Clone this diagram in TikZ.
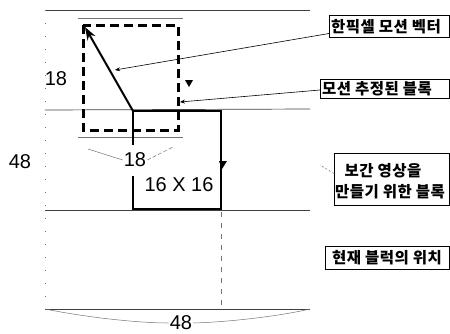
\documentclass[tikz,border=0pt]{standalone}
\usepackage{fontspec}
\setmainfont{Liberation Sans}
\newfontfamily\kr{Noto Sans CJK KR}[LetterSpace=3]
\usetikzlibrary{arrows.meta}
\tikzset{
  grid/.style={line width=0.7pt, black!75},
  faint/.style={line width=0.5pt, black!55},
  dashbox/.style={line width=3pt, dash pattern=on 9pt off 5pt},
  blockline/.style={line width=2.8pt},
  vec/.style={line width=2pt, -{Stealth[length=13pt,width=9pt]}},
  leader/.style={line width=0.6pt, -{Stealth[length=5pt,width=4pt]}},
  dim/.style={font=\fontsize{20}{22}\selectfont, inner sep=1pt},
  labbox/.style={draw, line width=1pt, anchor=north west, inner sep=0pt},
  labtxt/.style={anchor=west, font=\kr\bfseries\fontsize{15.5}{18}\selectfont, inner sep=0pt},
  tickmark/.style={fill=black}
}
\begin{document}
\begin{tikzpicture}[x=1pt,y=-1pt]
\useasboundingbox (0,0) rectangle (450,333);
\clip (0,0) rectangle (450,333);
% grid lines
\coordinate (g0l) at (45,10);  \coordinate (g0r) at (310,10);
\coordinate (g1l) at (45,110); \coordinate (g1r) at (310,109);
\coordinate (g2l) at (45,210); \coordinate (g2r) at (310,210);
\coordinate (g3l) at (45,309); \coordinate (g3r) at (310,309);
\draw[grid] (g0l) -- (g0r);
\draw[grid] (g1l) -- (g1r);
\draw[grid] (g2l) -- (g2r);
\draw[grid] (g3l) -- (g3r);
\draw[faint, dash pattern=on 1pt off 12pt] (g0l) -- (g3l);
\coordinate (vd1) at (221,212); \coordinate (vd2) at (221,309);
\draw[faint, dash pattern=on 5pt off 6pt] (vd1) -- (vd2);
% thin lines above/below dashed box
\coordinate (ta) at (78,18);  \coordinate (tb) at (183,18);
\coordinate (ba) at (78,137); \coordinate (bb) at (183,137);
\draw[faint] (ta) -- (tb);
\draw[faint] (ba) -- (bb);
% dashed search block
\coordinate (d1) at (83,25); \coordinate (d2) at (178,130);
\draw[dashbox] (d1) rectangle (d2);
% solid block
\coordinate (s1) at (133,111); \coordinate (s2) at (221,111);
\coordinate (s3) at (221,209); \coordinate (s4) at (133,209);
\coordinate (s5) at (133,176); \coordinate (s6) at (133,145);
\draw[blockline] (s5) -- (s4) -- (s3) -- (s2) -- (s1) -- (s6);
% motion vector
\coordinate (vtip) at (85,27);
\draw[vec] (s1) -- (vtip);
% small marks
\fill[tickmark] (185,80) -- (193,80) -- (189,87) -- cycle;
\fill[tickmark] (219,161) -- (227,161) -- (222,169) -- cycle;
% dimension labels
\node[dim] (l18a) at (56,79) {18};
\node[dim] (l48a) at (20,162) {48};
\node[dim] (l18b) at (135,160) {18};
\node[dim] (l1616) at (179,185) {16 X 16};
\node[dim] (l48b) at (181,323) {48};
\draw[faint] (88,149) -- (l18b.west);
\draw[faint, dash pattern=on 4pt off 2pt] (l18b.east) -- (173,147);
\draw[faint] (g3l) .. controls (90,318) and (140,323) .. (l48b.west);
\draw[faint] (l48b.east) .. controls (230,322) and (280,316) .. (g3r);
% label boxes
\node[labbox, minimum width=120pt, minimum height=22pt] (b1) at (329,15) {};
\node[labtxt] (t1) at ([xshift=2pt]b1.west) {한픽셀 모션 벡터};
\node[labbox, minimum width=129pt, minimum height=19pt] (b2) at (320,79) {};
\node[labtxt] (t2) at ([xshift=2pt]b2.west) {모션 추정된 블록};
\node[labbox, minimum width=115pt, minimum height=52pt] (b3) at (334,153) {};
\node[labtxt, anchor=center] (t3a) at (383,171) {보간 영상을};
\node[labtxt] (t3b) at (335,192) {만들기 위한 블록};
\node[labbox, minimum width=124pt, minimum height=23pt] (b4) at (325,246) {};
\node[labtxt] (t4) at ([xshift=7pt]b4.west) {현재 블럭의 위치};
% leaders
\coordinate (p1) at (115,70);
\coordinate (p2) at (180,102);
\draw[leader] ([yshift=-7pt]b1.west) -- (p1);
\draw[leader] ([yshift=-1pt]b2.west) -- (p2);
\coordinate (p3) at (320,165);
\draw[faint, dash pattern=on 2pt off 2pt] ([yshift=6pt]b3.west) -- (p3);
\end{tikzpicture}
\end{document}
